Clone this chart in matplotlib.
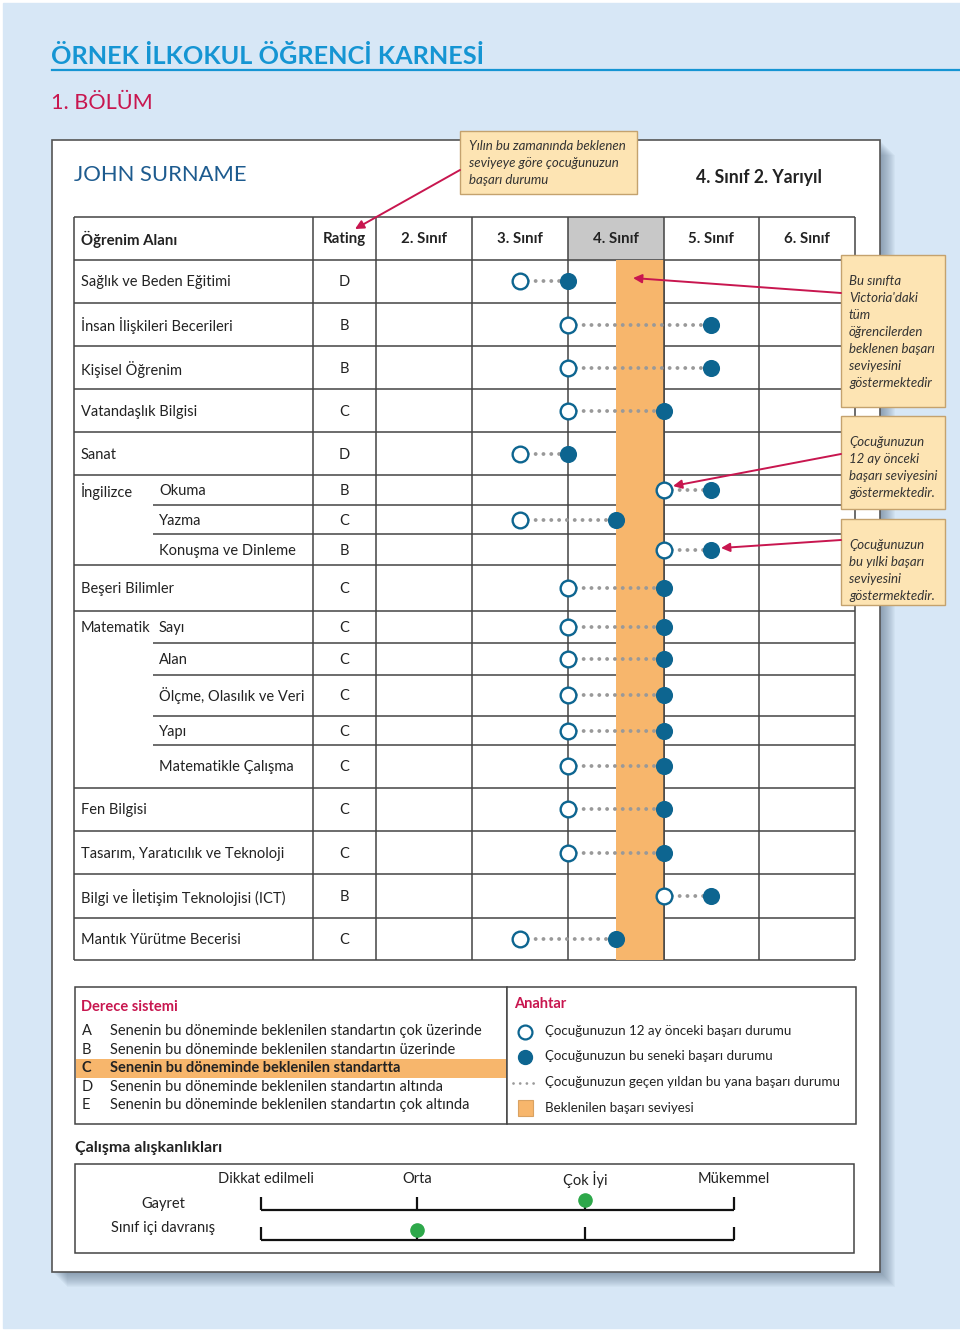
import matplotlib
matplotlib.use("Agg")
import matplotlib.pyplot as plt
from matplotlib.patches import Rectangle

plt.rcParams['font.family'] = ['Lato', 'DejaVu Sans']

# ---------------- data ----------------
areas = ["Sağlık ve Beden Eğitimi", "İnsan İlişkileri Becerileri", "Kişisel Öğrenim",
         "Vatandaşlık Bilgisi", "Sanat", "İngilizce", "", "", "Beşeri Bilimler",
         "Matematik", "", "", "", "", "Fen Bilgisi",
         "Tasarım, Yaratıcılık ve Teknoloji", "Bilgi ve İletişim Teknolojisi (ICT)",
         "Mantık Yürütme Becerisi"]
subareas = ["", "", "", "", "", "Okuma", "Yazma", "Konuşma ve Dinleme", "",
            "Sayı", "Alan", "Ölçme, Olasılık ve Veri", "Yapı", "Matematikle Çalışma",
            "", "", "", ""]
ratings = ["D", "B", "B", "C", "D", "B", "C", "B", "C",
           "C", "C", "C", "C", "C", "C", "C", "B", "C"]
# achievement level in grade units (12 months ago / this year)
prev_level = [3.5, 4.0, 4.0, 4.0, 3.5, 5.0, 3.5, 5.0, 4.0,
              4.0, 4.0, 4.0, 4.0, 4.0, 4.0, 4.0, 5.0, 3.5]
curr_level = [4.0, 5.5, 5.5, 5.0, 4.0, 5.5, 4.5, 5.5, 5.0,
              5.0, 5.0, 5.0, 5.0, 5.0, 5.0, 5.0, 5.5, 4.5]
grade_cols = ["2. Sınıf", "3. Sınıf", "4. Sınıf", "5. Sınıf", "6. Sınıf"]
grade_start = [2, 3, 4, 5, 6]
current_grade = 4
expected = (4.5, 5.0)

rating_keys = ["A", "B", "C", "D", "E"]
rating_desc = ["Senenin bu döneminde beklenilen standartın çok üzerinde",
               "Senenin bu döneminde beklenilen standartın üzerinde",
               "Senenin bu döneminde beklenilen standartta",
               "Senenin bu döneminde beklenilen standartın altında",
               "Senenin bu döneminde beklenilen standartın çok altında"]
key_labels = ["Çocuğunuzun 12 ay önceki başarı durumu",
              "Çocuğunuzun bu seneki başarı durumu",
              "Çocuğunuzun geçen yıldan bu yana başarı durumu",
              "Beklenilen başarı seviyesi"]

habit_rows = ["Gayret", "Sınıf içi davranış"]
habit_scale = ["Dikkat edilmeli", "Orta", "Çok İyi", "Mükemmel"]
habit_value = ["Çok İyi", "Orta"]

# ---------------- layout ----------------
row_y = [281, 325, 368, 411, 454, 490, 520, 550, 588,
         627, 659, 695, 731, 766, 809, 853, 896, 939]
full_lines = [217, 260, 303, 346, 389, 432, 475, 565, 611, 788, 831, 874, 918, 960]
sub_lines = [505, 534, 643, 675, 716, 745]
scale_x = [261, 417, 585, 734]
habit_y = [1210, 1240]
habit_label_y = [1204, 1228]

BG = '#D7E7F6'
TITLE = '#1595D3'
CRIMSON = '#C8164F'
NAVY = '#1D5B8F'
DOT = '#0D6590'
BAND = '#F7B66C'
NOTE = '#FDE4B3'
NOTE_EDGE = '#C4A26E'
GRID = '#444444'
TXT = '#222222'

fig = plt.figure(figsize=(9.6, 13.3), dpi=100, facecolor='white')
ax = fig.add_axes([0, 0, 1, 1])
ax.set_xlim(0, 960)
ax.set_ylim(1330, 0)
ax.axis('off')

# second axes in grade units for the level marks
px_per_grade = 95.75
ax2 = fig.add_axes([0, 0, 1, 1], zorder=2)
ax2.set_xlim(3 - 472 / px_per_grade, 3 + (960 - 472) / px_per_grade)
ax2.set_ylim(1330, 0)
ax2.axis('off')
ax2.patch.set_alpha(0)

# overlay for callouts
ax3 = fig.add_axes([0, 0, 1, 1], zorder=3)
ax3.set_xlim(0, 960)
ax3.set_ylim(1330, 0)
ax3.axis('off')
ax3.patch.set_alpha(0)

ax.add_patch(Rectangle((3, 3), 957, 1325, color=BG, zorder=0))

# title
ax.text(51, 56, "ÖRNEK İLKOKUL ÖĞRENCİ KARNESİ", fontsize=18.2, fontweight='bold',
        color=TITLE, va='center')
ax.plot([52, 960], [70, 70], color=TITLE, lw=1.6)
ax.text(51, 103, "1. BÖLÜM", fontsize=15.6, color=CRIMSON, va='center')

# paper card with soft shadow
for d in range(1, 16):
    ax.add_patch(Rectangle((52 + d, 140 + d), 828, 1132, color='#4a5f78',
                           alpha=0.045, lw=0, zorder=1))
ax.add_patch(Rectangle((52, 140), 828, 1132, facecolor='white', edgecolor='#555555',
                       lw=1.2, zorder=2))

ax.text(74, 175, "JOHN SURNAME", fontsize=15.8, color=NAVY, va='center', zorder=5)
ax.text(759, 177, "4. Sınıf 2. Yarıyıl", fontsize=12.7, fontweight='bold', color=TXT,
        va='center', ha='center', zorder=5)

# note box top
ax3.add_patch(Rectangle((460, 131), 177, 63, facecolor=NOTE, edgecolor=NOTE_EDGE, lw=1))
for i, s in enumerate(["Yılın bu zamanında beklenen", "seviyeye göre çocuğunuzun",
                       "başarı durumu"]):
    ax3.text(469, 146 + 17 * i, s, fontsize=9.5, style='italic', color='#333333',
             va='center')
ax3.annotate('', xy=(355, 229), xytext=(460, 170),
             arrowprops=dict(arrowstyle='-|>', color=CRIMSON, lw=1.4, mutation_scale=13,
                             shrinkA=0, shrinkB=0))

# table
ax.add_patch(Rectangle((568, 217), 95, 43, color='#C8C8C8', zorder=3))
ax.hlines(full_lines, 74, 855, color=GRID, lw=1.1, zorder=4)
ax.hlines(sub_lines, 153, 855, color=GRID, lw=1.1, zorder=4)
ax.vlines([74, 313], 217, 960, color=GRID, lw=1.1, zorder=4)
ax2.vlines(grade_start + [grade_start[-1] + 1], 217, 960, color=GRID, lw=1.1, zorder=1)

ax.text(81, 239, "Öğrenim Alanı", fontsize=10.8, fontweight='bold', color=TXT,
        va='center', zorder=5)
ax.text(344, 239, "Rating", fontsize=10.8, fontweight='bold', color=TXT,
        va='center', ha='center', zorder=5)
for g, lab in zip(grade_start, grade_cols):
    ax2.text(g + 0.5, 239, lab, fontsize=10.8, fontweight='bold', color=TXT,
             va='center', ha='center')

for y, a, s, r in zip(row_y, areas, subareas, ratings):
    ty = y + 1
    if a:
        ax.text(81, ty, a, fontsize=10.5, color=TXT, va='center', zorder=5)
    if s:
        ax.text(159, ty, s, fontsize=10.5, color=TXT, va='center', zorder=5)
    ax.text(344, ty, r, fontsize=10.5, color=TXT, va='center', ha='center', zorder=5)

# expected level band
ax2.add_patch(Rectangle((expected[0], 260), expected[1] - expected[0], 700,
                        color=BAND, lw=0, zorder=2))
ax2.vlines([expected[1]], 260, 960, color=GRID, lw=1.1, zorder=2.5)

for y, p, c in zip(row_y, prev_level, curr_level):
    ax2.plot([p, c], [y, y], color='#999999', lw=2.8, linestyle=(0, (0.01, 2.0)),
             dash_capstyle='round', zorder=3)
ax2.plot(prev_level, row_y, 'o', ms=11.3, mfc='white', mec=DOT, mew=1.7, ls='none', zorder=4)
ax2.plot(curr_level, row_y, 'o', ms=11.3, mfc=DOT, mec=DOT, mew=1.0, ls='none', zorder=4)

# side notes
notes = [(255, 152, ["Bu sınıfta", "Victoria'daki", "tüm", "öğrencilerden",
                     "beklenen başarı", "seviyesini", "göstermektedir"],
          (841, 293), (633, 278)),
         (416, 93, ["Çocuğunuzun", "12 ay önceki", "başarı seviyesini",
                    "göstermektedir."], (841, 454), (673, 486)),
         (519, 86, ["Çocuğunuzun", "bu yılki başarı", "seviyesini",
                    "göstermektedir."], (841, 540), (721, 548))]
for top, h, lines, start, end in notes:
    ax3.add_patch(Rectangle((841, top), 104, h, facecolor=NOTE, edgecolor=NOTE_EDGE, lw=1))
    for i, s in enumerate(lines):
        ax3.text(849, top + 26 + 17 * i, s, fontsize=9.5, style='italic', color='#333333',
                 va='center')
    ax3.annotate('', xy=end, xytext=start,
                 arrowprops=dict(arrowstyle='-|>', color=CRIMSON, lw=1.4, mutation_scale=13,
                                 shrinkA=0, shrinkB=0))

# rating legend
ax.add_patch(Rectangle((75, 987), 432, 137, facecolor='white', edgecolor=GRID, lw=1.1, zorder=3))
ax.add_patch(Rectangle((507, 987), 349, 137, facecolor='white', edgecolor=GRID, lw=1.1, zorder=3))
ax.text(81, 1007, "Derece sistemi", fontsize=10.5, fontweight='bold', color=CRIMSON,
        va='center', zorder=5)
for i, (k, d) in enumerate(zip(rating_keys, rating_desc)):
    y = 1031 + 18.6 * i
    bold = 'bold' if k == "C" else 'normal'
    if k == "C":
        ax.add_patch(Rectangle((76, y - 9.5), 430, 19, color=BAND, lw=0, zorder=4))
    ax.text(82, y, k, fontsize=10.5, fontweight=bold, color=TXT, va='center', zorder=5)
    ax.text(110, y, d, fontsize=10.5, fontweight=bold, color=TXT, va='center', zorder=5)

ax.text(514, 1004, "Anahtar", fontsize=10.5, fontweight='bold', color=CRIMSON,
        va='center', zorder=5)
key_y = [1031, 1056, 1082, 1108]
ax.plot([525], [key_y[0] + 1], 'o', ms=10, mfc='white', mec=DOT, mew=1.6, zorder=5)
ax.plot([525], [key_y[1] + 1], 'o', ms=10, mfc=DOT, mec=DOT, zorder=5)
ax.plot([513, 539], [key_y[2] + 1, key_y[2] + 1], color='#9A9A9A', lw=2.0,
        linestyle=(0, (0.01, 2.4)), dash_capstyle='round', zorder=5)
ax.add_patch(Rectangle((518, key_y[3] - 8), 15, 16, facecolor=BAND, edgecolor='#D9A262',
                       lw=0.8, zorder=5))
for y, s in zip(key_y, key_labels):
    ax.text(545, y, s, fontsize=9.6, color=TXT, va='center', zorder=5)

# work habits
ax.text(75, 1148, "Çalışma alışkanlıkları", fontsize=11.5, fontweight='bold', color=TXT,
        va='center', zorder=5)
ax.add_patch(Rectangle((75, 1164), 779, 89, facecolor='white', edgecolor=GRID, lw=1.1, zorder=3))
for x, s in zip(scale_x, habit_scale):
    ax.text(x + 5 if s == "Dikkat edilmeli" else x, 1179, s, fontsize=10.5, color=TXT,
            va='center', ha='center', zorder=5)
for name, val, y, ly in zip(habit_rows, habit_value, habit_y, habit_label_y):
    ax.text(163, ly, name, fontsize=10.5, color=TXT, va='center', ha='center', zorder=5)
    ax.plot([scale_x[0], scale_x[-1]], [y, y], color='#111111', lw=1.6,
            solid_capstyle='butt', zorder=5)
    ax.vlines(scale_x, y - 13, y, color='#111111', lw=1.6, zorder=5)
    xv = scale_x[habit_scale.index(val)]
    ax.plot([xv], [y - 10], 'o', ms=9.5, color='#2DA84A', zorder=6)

fig.savefig("out.png", dpi=100, facecolor=fig.get_facecolor())
